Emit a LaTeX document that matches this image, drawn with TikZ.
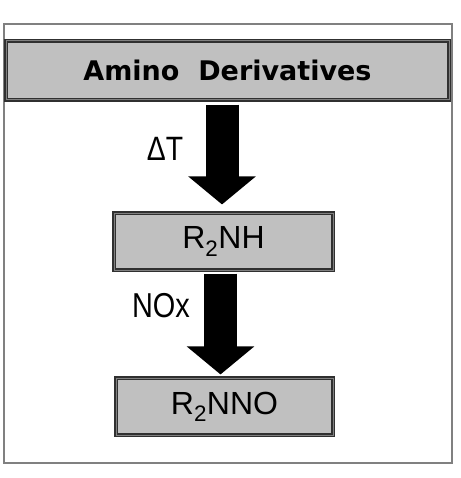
\documentclass[tikz,border=0pt]{standalone}
\usepackage{fontspec}
\usepackage{graphicx}
\setmainfont{Liberation Sans}
\newfontfamily\titlefont{DejaVu Sans}
\usetikzlibrary{arrows.meta}
\definecolor{boxgray}{HTML}{C0C0C0}
\definecolor{edgegray}{HTML}{303030}
\begin{document}
\begin{tikzpicture}[x=1pt,y=-1pt,
  graybox/.style={draw=edgegray, line width=1.1pt, double=gray, double distance=1pt, fill=boxgray, inner sep=0pt, anchor=center},
  bigarrow/.style={line width=33pt, draw=black, -{Triangle[width=66pt,length=28pt]}},
  lbl/.style={font=\fontsize{27}{27}\selectfont, inner sep=0pt}]
\useasboundingbox (0,0) rectangle (460,478);
\fill[white] (0,0) rectangle (460,478);
\draw[gray, line width=1.3pt] (4,24) rectangle (452,463);
\node[graybox, minimum width=443pt, minimum height=59pt] (title) at (227.5,70.5)
  {\titlefont\bfseries\fontsize{27}{27}\selectfont Amino\ \ Derivatives};
\node[graybox, minimum width=219pt, minimum height=57pt] (nh) at (223.5,241.5)
  {\fontsize{32}{32}\selectfont R\textsubscript{2}NH};
\node[graybox, minimum width=217pt, minimum height=57pt] (nno) at (224.5,406.5)
  {\fontsize{32}{32}\selectfont R\textsubscript{2}NNO};
\draw[bigarrow, shorten <=4pt, shorten >=8pt] (title.south -| 222,0) -- (nh.north -| 222,0);
\draw[bigarrow, shorten <=3pt, shorten >=3pt] (nh.south -| 220.5,0) -- (nno.north -| 220.5,0);
\node[lbl] (dt) at (165,149) {\scalebox{1.05}[1.25]{ΔT}};
\node[lbl] (nox) at (161,306) {\scalebox{1.07}[1.28]{NOx}};
\end{tikzpicture}
\end{document}
